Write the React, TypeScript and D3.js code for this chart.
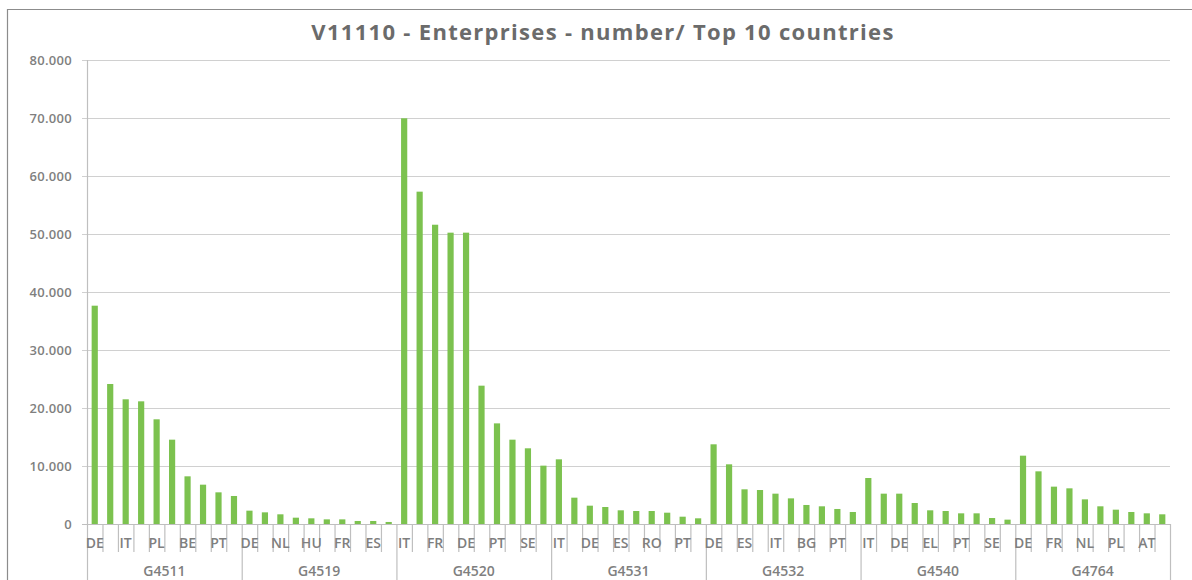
import React from "react";
import * as d3 from "d3";

const groups = ["G4511", "G4519", "G4520", "G4531", "G4532", "G4540", "G4764"];

const countries: string[][] = [
  ["DE", "FR", "IT", "ES", "PL", "NL", "BE", "CZ", "PT", "AT"],
  ["DE", "IT", "NL", "PL", "HU", "BE", "FR", "CZ", "ES", "AT"],
  ["IT", "ES", "FR", "PL", "DE", "RO", "PT", "CZ", "SE", "NL"],
  ["IT", "FR", "DE", "PL", "ES", "CZ", "RO", "HU", "PT", "BE"],
  ["DE", "FR", "ES", "PL", "IT", "RO", "BG", "HU", "PT", "CZ"],
  ["IT", "FR", "DE", "ES", "EL", "PL", "PT", "NL", "SE", "AT"],
  ["DE", "IT", "FR", "ES", "NL", "CZ", "PL", "SE", "AT", "BE"],
];

const values: number[][] = [
  [37640, 24140, 21500, 21150, 18050, 14540, 8220, 6780, 5460, 4830],
  [2300, 2010, 1670, 1090, 980, 800, 800, 520, 520, 350],
  [69950, 57300, 51600, 50230, 50230, 23850, 17350, 14540, 13050, 10060],
  [11150, 4540, 3160, 2930, 2360, 2240, 2240, 1950, 1260, 980],
  [13740, 10290, 5980, 5860, 5230, 4420, 3280, 3050, 2590, 2070],
  [7930, 5230, 5230, 3620, 2360, 2240, 1840, 1840, 1030, 750],
  [11780, 9080, 6440, 6150, 4250, 3050, 2470, 2070, 1840, 1670],
];

const yTicks = [0, 10000, 20000, 30000, 40000, 50000, 60000, 70000, 80000];

const title = "V11110 - Enterprises - number/ Top 10 countries";

type Item = { key: string; group: string; country: string; idx: number; value: number };

export default function App() {
  const W = 1192;
  const H = 580;
  const left = 87;
  const right = 1170;
  const top = 60;
  const bottom = 524;

  const items: Item[] = [];
  groups.forEach((g, gi) => {
    countries[gi].forEach((c, ci) => {
      items.push({ key: `${g}-${ci}`, group: g, country: c, idx: ci, value: values[gi][ci] });
    });
  });

  const x = d3
    .scaleBand<string>()
    .domain(items.map((d) => d.key))
    .range([left, right])
    .paddingInner(0.6)
    .paddingOuter(0.3);
  const step = x.step();
  const y = d3.scaleLinear().domain([0, 80000]).range([bottom, top]);

  const gx = d3.scaleBand<string>().domain(groups).range([left, right]);

  const fmt = (v: number) =>
    v === 0 ? "0" : d3.format(",")(v).replace(/,/g, ".");

  const textFont = "'Open Sans', 'DejaVu Sans', sans-serif";
  const labelColor = "#7f7f7f";
  const green = "#7cc24f";

  return (
    <svg
      width={W}
      height={H}
      style={{ position: "absolute", left: 0, top: 0, background: "#fff" }}
      fontFamily={textFont}
    >
      <rect x={0} y={0} width={W} height={H} fill="#fff" />
      {/* chart border */}
      <path d={`M7.5,${H} V9.5 H${W}`} fill="none" stroke="#8c8c8c" strokeWidth={1.2} />

      <text
        x={603}
        y={40}
        textAnchor="middle"
        fontSize={22}
        fontWeight={700}
        letterSpacing={1.3}
        fill="#6b6b6b"
      >
        {title}
      </text>

      {/* gridlines and y labels */}
      {yTicks.map((t) => (
        <g key={t}>
          <line
            x1={left - 5}
            x2={right}
            y1={y(t) + 0.5}
            y2={y(t) + 0.5}
            stroke={t === 0 ? "#bfbfbf" : "#d0d0d0"}
            strokeWidth={1.2}
          />
          <text
            x={72}
            y={y(t) + 5}
            textAnchor="end"
            fontSize={13}
            fontWeight={600}
            letterSpacing={0.3}
            fill={labelColor}
          >
            {fmt(t)}
          </text>
        </g>
      ))}

      {/* y axis */}
      <line x1={left + 0.5} x2={left + 0.5} y1={top} y2={bottom} stroke="#bfbfbf" strokeWidth={1.2} />

      {/* bars */}
      {items.map((d) => (
        <rect
          key={d.key}
          x={x(d.key)!}
          y={y(d.value)}
          width={x.bandwidth()}
          height={bottom - y(d.value)}
          fill={green}
        />
      ))}

      {/* category ticks */}
      {items.map((d) => {
        const bx = (x(d.key) as number) - step * 0.3;
        const isGroupStart = d.idx === 0;
        return (
          <line
            key={"t" + d.key}
            x1={bx + 0.5}
            x2={bx + 0.5}
            y1={bottom}
            y2={isGroupStart ? H : 552}
            stroke="#bfbfbf"
            strokeWidth={1.2}
          />
        );
      })}
      <line x1={right + 0.5} x2={right + 0.5} y1={bottom} y2={H} stroke="#bfbfbf" strokeWidth={1.2} />

      {/* category labels (every other) */}
      {items
        .filter((d) => d.idx % 2 === 0)
        .map((d) => (
          <text
            key={"l" + d.key}
            x={(x(d.key) as number) + x.bandwidth() / 2}
            y={548}
            textAnchor="middle"
            fontSize={14}
            fontWeight={600}
            fill={labelColor}
          >
            {d.country}
          </text>
        ))}

      {/* group labels */}
      {groups.map((g) => (
        <text
          key={"g" + g}
          x={(gx(g) as number) + gx.bandwidth() / 2}
          y={576}
          textAnchor="middle"
          fontSize={14}
          fontWeight={600}
          fill={labelColor}
        >
          {g}
        </text>
      ))}
    </svg>
  );
}
